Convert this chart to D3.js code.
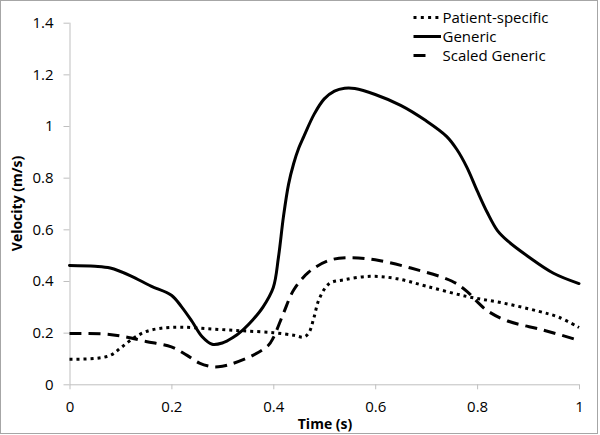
<!DOCTYPE html>
<html><head><meta charset="utf-8">
<script src="https://cdn.jsdelivr.net/npm/d3@7"></script>
<style>
html,body{margin:0;padding:0;background:#fff;}
svg{display:block;}
</style>
</head><body>
<svg id="chart" width="600" height="435"></svg>
<script>
// ---- data ----
const xTicks = [0, 0.2, 0.4, 0.6, 0.8, 1];
const yTicks = [0, 0.2, 0.4, 0.6, 0.8, 1, 1.2, 1.4];
const seriesNames = ["Patient-specific", "Generic", "Scaled Generic"];

const patientT = [0, 0.05, 0.08, 0.10, 0.125, 0.15, 0.18, 0.22, 0.28, 0.34, 0.40, 0.44, 0.46, 0.47, 0.48, 0.49, 0.51, 0.54, 0.59, 0.64, 0.70, 0.78, 0.85, 0.92, 0.96, 1.0];
const patientV = [0.097, 0.100, 0.112, 0.140, 0.178, 0.204, 0.217, 0.221, 0.214, 0.207, 0.200, 0.190, 0.183, 0.200, 0.260, 0.330, 0.390, 0.405, 0.418, 0.410, 0.380, 0.340, 0.315, 0.283, 0.260, 0.220];

const genericT = [0, 0.05, 0.08, 0.12, 0.16, 0.20, 0.22, 0.24, 0.26, 0.28, 0.30, 0.32, 0.34, 0.36, 0.38, 0.40, 0.41, 0.42, 0.43, 0.44, 0.45, 0.46, 0.48, 0.50, 0.52, 0.54, 0.56, 0.60, 0.65, 0.70, 0.74, 0.76, 0.78, 0.80, 0.82, 0.84, 0.86, 0.90, 0.95, 1.0];
const genericV = [0.460, 0.457, 0.450, 0.420, 0.380, 0.345, 0.300, 0.245, 0.185, 0.155, 0.160, 0.180, 0.210, 0.250, 0.300, 0.375, 0.490, 0.650, 0.775, 0.855, 0.915, 0.960, 1.045, 1.105, 1.135, 1.146, 1.145, 1.122, 1.080, 1.020, 0.960, 0.910, 0.840, 0.750, 0.665, 0.595, 0.555, 0.495, 0.430, 0.390];

const scaledT = [0, 0.07, 0.11, 0.15, 0.20, 0.23, 0.255, 0.28, 0.30, 0.32, 0.36, 0.39, 0.40, 0.42, 0.44, 0.47, 0.51, 0.55, 0.60, 0.67, 0.75, 0.78, 0.80, 0.82, 0.86, 0.93, 1.0];
const scaledV = [0.197, 0.195, 0.184, 0.166, 0.145, 0.113, 0.082, 0.068, 0.070, 0.080, 0.112, 0.150, 0.180, 0.275, 0.365, 0.435, 0.480, 0.490, 0.482, 0.450, 0.400, 0.360, 0.320, 0.285, 0.245, 0.210, 0.170];

// ---- layout ----
const svg = d3.select("#chart");
const pLeft = 69.5, pRight = 579, pTop = 22.7, pBottom = 384.3;

const x = d3.scaleLinear().domain([0, 1]).range([pLeft, pRight]);
const y = d3.scaleLinear().domain([0, 1.4]).range([pBottom, pTop]);

const FONT = "'Open Sans', 'DejaVu Sans', sans-serif";

// outer border
svg.append("rect").attr("x", 0.5).attr("y", 0.5).attr("width", 597).attr("height", 433)
  .attr("fill", "#fff").attr("stroke", "#a6a6a6").attr("stroke-width", 1);

// axes
const yAxis = d3.axisLeft(y).tickValues(yTicks).tickSize(6).tickPadding(10)
  .tickFormat(d => d3.format("~g")(d));
const gy = svg.append("g").attr("transform", `translate(${pLeft},0)`).call(yAxis);

const xAxis = d3.axisBottom(x).tickValues(xTicks).tickSize(5).tickPadding(12)
  .tickFormat(d => d3.format("~g")(d));
const gx = svg.append("g").attr("transform", `translate(0,${pBottom})`).call(xAxis);

[gx, gy].forEach(g => {
  g.select(".domain").attr("stroke", "#bfbfbf").attr("stroke-width", 1);
  g.selectAll(".tick line").attr("stroke", "#bfbfbf");
  g.selectAll(".tick text").attr("fill", "#000").style("font-family", FONT).style("font-size", "15px");
});
gx.select(".domain").attr("d", `M${pLeft},0.5H${pRight}`);
gy.select(".domain").attr("d", `M0.5,${pTop}V${pBottom}`);

// axis titles
svg.append("text").attr("x", 325).attr("y", 428.5).attr("text-anchor", "middle")
  .style("font-family", FONT).style("font-size", "14px").style("font-weight", "bold")
  .text("Time (s)");
svg.append("text").attr("transform", `translate(22,${(pTop + pBottom) / 2}) rotate(-90)`)
  .attr("text-anchor", "middle")
  .style("font-family", FONT).style("font-size", "14px").style("font-weight", "bold")
  .text("Velocity (m/s)");

// lines
const line = d3.line().x(d => x(d[0])).y(d => y(d[1])).curve(d3.curveCatmullRom.alpha(0.5));
const styles = [
  {dash: "3,4", cap: "butt", legendDash: "3,4.3"},
  {dash: null, cap: "round", legendDash: null},
  {dash: "12,7", cap: "butt", legendDash: "12,40"}
];
const data = [
  d3.zip(patientT, patientV),
  d3.zip(genericT, genericV),
  d3.zip(scaledT, scaledV)
];
data.forEach((d, i) => {
  svg.append("path").datum(d).attr("d", line)
    .attr("fill", "none").attr("stroke", "#000").attr("stroke-width", 3)
    .attr("stroke-linecap", styles[i].cap)
    .attr("stroke-dasharray", styles[i].dash);
});

// legend
const lg = svg.append("g");
seriesNames.forEach((name, i) => {
  const yy = 17.5 + i * 19;
  lg.append("line").attr("x1", 413.5).attr("x2", 441).attr("y1", yy).attr("y2", yy)
    .attr("stroke", "#000").attr("stroke-width", 3)
    .attr("stroke-dasharray", styles[i].legendDash);
  lg.append("text").attr("x", 442.5).attr("y", yy).attr("dy", "0.35em")
    .style("font-family", FONT).style("font-size", "15px").text(name);
});
</script>
</body></html>
